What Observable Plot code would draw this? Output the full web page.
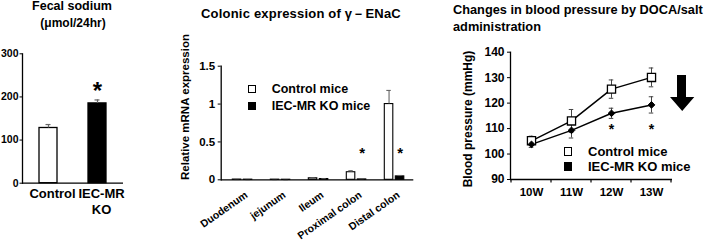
<!DOCTYPE html>
<html><head><meta charset="utf-8">
<script src="https://cdn.jsdelivr.net/npm/d3@7"></script>
<script src="https://cdn.jsdelivr.net/npm/@observablehq/plot@0.6"></script>
<style>
html,body{margin:0;padding:0;background:#fff;}
#root{position:relative;width:708px;height:241px;overflow:hidden;font-family:"Liberation Sans",Arial,sans-serif;font-weight:bold;color:#000;}
.abs{position:absolute;white-space:nowrap;}
.plot{position:absolute;}
.plot svg{overflow:visible;display:block;}
.sq{position:absolute;box-sizing:border-box;border:1.4px solid #000;background:#fff;}
.sq.k{background:#000;}
.vlab{position:absolute;white-space:nowrap;transform:translate(-50%,-50%) rotate(-90deg);}
</style></head>
<body><div id="root"></div>
<script>
// ---------- Panel A: Fecal sodium ----------
const fecalGroups = ["Control", "IEC-MR KO"];
const fecalLabels = ["Control", "IEC-MR\nKO"];
const fecalMeans = [128, 185];
const fecalErrs = [8, 8];
const fecalStarLevel = [null, 227];
const fecalTicks = [0, 100, 200, 300];

// ---------- Panel B: Colonic expression of gamma-ENaC ----------
const segments = ["Duodenum", "jejunum", "Ileum", "Proximal colon", "Distal colon"];
const enacControl = [0.003, 0.002, 0.02, 0.10, 1.00];
const enacControlErr = [0.001, 0.001, 0.005, 0.02, 0.18];
const enacKO = [0.002, 0.001, 0.01, 0.005, 0.045];
const enacKOErr = [0.001, 0.001, 0.003, 0.002, 0.012];
const enacStarLevel = [null, null, null, 0.41, 0.41];
const enacTicks = [0, 0.5, 1, 1.5];

// ---------- Panel C: Blood pressure ----------
const weeks = ["10W", "11W", "12W", "13W"];
const bpControl = [105.2, 113.0, 125.5, 130.1];
const bpControlErr = [1.8, 4.5, 3.6, 3.7];
const bpKO = [103.8, 109.3, 116.0, 119.3];
const bpKOErr = [1.2, 3.0, 2.0, 3.2];
const bpStarLevel = [null, null, 111.2, 111.2];
const bpTicks = [90, 100, 110, 120, 130, 140];
const seriesNames = ["Control mice", "IEC-MR KO mice"];

const FONT = '"Liberation Sans", Arial, sans-serif';
const root = document.getElementById("root");
function place(el, left, top) {
  const d = document.createElement("div");
  d.className = "plot";
  d.style.left = left + "px";
  d.style.top = top + "px";
  d.appendChild(el);
  root.appendChild(d);
}
function html(cls, text, css) {
  const d = document.createElement("div");
  d.className = cls;
  d.textContent = text;
  Object.assign(d.style, css);
  root.appendChild(d);
  return d;
}
const baseStyle = {fontFamily: FONT, fontWeight: "bold", fontSize: "11px", background: "transparent", overflow: "visible", color: "#000"};

// ---------- Panel A ----------
const fecal = fecalGroups.map((g, i) => ({group: g, mean: fecalMeans[i], err: fecalErrs[i], star: fecalStarLevel[i]}));
const p1 = Plot.plot({
  width: 130, height: 180,
  marginLeft: 22, marginRight: 7, marginTop: 13.3, marginBottom: 37.3,
  style: baseStyle,
  x: {type: "band", domain: fecalGroups, paddingInner: 0.635, paddingOuter: 0.342},
  y: {domain: [0, 300]},
  color: {domain: fecalGroups, range: ["#fff", "#000"]},
  marks: [
    Plot.barY(fecal, {x: "group", y: "mean", fill: "group", stroke: "#000", strokeWidth: 1.3}),
    Plot.ruleX(fecal, {x: "group", y1: "mean", y2: d => d.mean + d.err, stroke: "#666", strokeWidth: 1.2}),
    Plot.tickY(fecal, {x: "group", y: d => d.mean + d.err, stroke: "#666", strokeWidth: 1.2, inset: 6.5}),
    Plot.text(fecal.filter(d => d.star != null), {x: "group", y: "star", text: () => "*", fontSize: 24, fontWeight: "bold", dy: 6}),
    Plot.ruleY([0], {strokeWidth: 1.3}),
    Plot.frame({anchor: "left", strokeWidth: 1.3}),
    Plot.axisY({ticks: fecalTicks, tickSize: 2.5, tickPadding: 1.5, fontSize: 10.5, label: null, tickFormat: d => String(d)}),
    Plot.axisX({tickSize: 0, tickPadding: 4, fontSize: 13, lineHeight: 1.22, dx: 4, label: null,
      tickFormat: d => fecalLabels[fecalGroups.indexOf(d)]})
  ]
});
place(p1, 0, 40);
html("abs", "Fecal sodium", {left: "0px", width: "144px", textAlign: "center", top: "-1px", fontSize: "12.5px", lineHeight: "14px"});
html("abs", "(μmol/24hr)", {left: "0px", width: "146px", textAlign: "center", top: "16px", fontSize: "12px", lineHeight: "14px"});

// ---------- Panel B ----------
const enac = segments.map((s, i) => ({seg: s, c: enacControl[i], ce: enacControlErr[i], k: enacKO[i], ke: enacKOErr[i], star: enacStarLevel[i]}));
const p2 = Plot.plot({
  width: 240, height: 200,
  marginLeft: 40.7, marginRight: 6.7, marginTop: 25.7, marginBottom: 60.7,
  style: baseStyle,
  x: {type: "band", domain: segments, padding: 0, axis: null},
  y: {domain: [0, 1.5]},
  marks: [
    Plot.barY(enac, {x: "seg", y: "c", fill: "#fff", stroke: "#000", strokeWidth: 1.1, insetLeft: 10.3, insetRight: 19.2}),
    Plot.ruleX(enac, {x: "seg", y1: "c", y2: d => d.c + d.ce, dx: -4.45, stroke: "#666", strokeWidth: 1.1}),
    Plot.tickY(enac, {x: "seg", y: d => d.c + d.ce, insetLeft: 12.3, insetRight: 21.2, stroke: "#666", strokeWidth: 1.1}),
    Plot.barY(enac, {x: "seg", y: "k", fill: "#000", stroke: "#000", strokeWidth: 1.1, insetLeft: 21.3, insetRight: 8.2}),
    Plot.ruleX(enac, {x: "seg", y1: "k", y2: d => d.k + d.ke, dx: 6.55, stroke: "#666", strokeWidth: 1.1}),
    Plot.tickY(enac, {x: "seg", y: d => d.k + d.ke, insetLeft: 23.3, insetRight: 10.2, stroke: "#666", strokeWidth: 1.1}),
    Plot.text(enac.filter(d => d.star != null), {x: "seg", y: "star", dx: 6.55, dy: 4, text: () => "*", fontSize: 15, fontWeight: "bold"}),
    Plot.ruleY([0], {strokeWidth: 1.3}),
    Plot.frame({anchor: "left", strokeWidth: 1.3}),
    Plot.axisY({ticks: enacTicks, tickSize: 3, tickPadding: 3, fontSize: 11.5, label: null, tickFormat: d => String(d)}),
    // rotated category labels, anchored at the band centre below the axis line
    Plot.text(segments, {x: d => d, text: d => d, frameAnchor: "bottom", rotate: -35, textAnchor: "end", lineAnchor: "middle",
      dx: 5, dy: 14, fontSize: 10.5, fontWeight: "bold"})
  ]
});
place(p2, 180, 40);
html("abs", "Colonic expression of γ－ENaC", {left: "201px", top: "5.5px", fontSize: "13px", lineHeight: "15px", letterSpacing: "0.2px"});
html("vlab", "Relative mRNA expression", {left: "185px", top: "107px", fontSize: "11.5px"});
// legend B
[[seriesNames[0], ""], [seriesNames[1], "k"]].forEach(([name, k], i) => {
  const y = [89.3, 106][i];
  const s = document.createElement("div");
  s.className = "sq " + k;
  Object.assign(s.style, {left: "247.7px", top: (y - 4) + "px", width: "8px", height: "8px"});
  root.appendChild(s);
  html("abs", name, {left: "271.7px", top: (y - 7.5) + "px", fontSize: "12.5px", lineHeight: "15px"});
});

// ---------- Panel C ----------
const bp = weeks.flatMap((w, i) => [
  {week: w, group: seriesNames[0], mean: bpControl[i], err: bpControlErr[i]},
  {week: w, group: seriesNames[1], mean: bpKO[i], err: bpKOErr[i]}
]);
const bpStars = weeks.map((w, i) => ({week: w, level: bpStarLevel[i]})).filter(d => d.level != null);
const p3 = Plot.plot({
  width: 268, height: 160,
  marginLeft: 70, marginRight: 36, marginTop: 11.7, marginBottom: 21,
  style: baseStyle,
  x: {type: "band", domain: weeks, padding: 0},
  y: {domain: [90, 140]},
  marks: [
    Plot.ruleX(bp, {x: "week", y1: d => d.mean - d.err, y2: d => d.mean + d.err, stroke: "#444", strokeWidth: 1}),
    Plot.tickY(bp, {x: "week", y: d => d.mean - d.err, inset: 17.75, stroke: "#444", strokeWidth: 1}),
    Plot.tickY(bp, {x: "week", y: d => d.mean + d.err, inset: 17.75, stroke: "#444", strokeWidth: 1}),
    Plot.line(bp, {x: "week", y: "mean", z: "group", stroke: "#000", strokeWidth: 1.5}),
    Plot.dot(bp.filter(d => d.group === seriesNames[0]), {x: "week", y: "mean", symbol: "square", r: 4.6, fill: "#fff", stroke: "#000", strokeWidth: 1.3}),
    Plot.dot(bp.filter(d => d.group === seriesNames[1]), {x: "week", y: "mean", symbol: "diamond2", r: 3, fill: "#000", stroke: "#000", strokeWidth: 1}),
    Plot.text(bpStars, {x: "week", y: "level", text: () => "*", fontSize: 14, fontWeight: "bold", dy: 3.6}),
    Plot.ruleY([90], {strokeWidth: 1.3}),
    Plot.frame({anchor: "left", strokeWidth: 1.3}),
    Plot.axisY({ticks: bpTicks, tickSize: 3, tickPadding: 3, fontSize: 12, label: null}),
    Plot.axisX({tickSize: 0, tickPadding: 8, fontSize: 11.5, label: null})
  ]
});
// category boundary tick marks on the x axis (from the band scale)
(function () {
  const xs = p3.scale("x");
  const bounds = weeks.map(w => xs.apply(w)).concat([xs.apply(weeks[weeks.length - 1]) + xs.bandwidth]);
  const y0 = 160 - 21;
  d3.select(p3).append("g").attr("stroke", "#000").attr("stroke-width", 1.2)
    .selectAll("line").data(bounds).join("line")
    .attr("x1", d => d).attr("x2", d => d).attr("y1", y0).attr("y2", y0 + 3.5);
})();
place(p3, 440, 40);
// title sized to span the width it has in the reference
const t3 = html("abs", "Changes in blood pressure by DOCA/salt", {left: "453px", top: "1px", fontSize: "13px", lineHeight: "17px"});
const t3w = t3.getBoundingClientRect().width;
const t3size = Math.min(13.5, 13 * 250 / t3w);
t3.style.fontSize = t3size + "px";
html("abs", "administration", {left: "453px", top: "18px", fontSize: t3size + "px", lineHeight: "17px"});
html("vlab", "Blood pressure (mmHg)", {left: "468px", top: "118.5px", fontSize: "12px"});
[[seriesNames[0], ""], [seriesNames[1], "k"]].forEach(([name, k], i) => {
  const y = [151.7, 166.7][i];
  const s = document.createElement("div");
  s.className = "sq " + k;
  Object.assign(s.style, {left: "563.6px", top: (y - 4.4) + "px", width: "8.8px", height: "8.8px"});
  root.appendChild(s);
  html("abs", name, {left: "588px", top: (y - 8) + "px", fontSize: "13px", lineHeight: "16px"});
});
// decorative down arrow (annotation)
const arrow = document.createElementNS("http://www.w3.org/2000/svg", "svg");
arrow.setAttribute("width", "26"); arrow.setAttribute("height", "37");
arrow.style.position = "absolute"; arrow.style.left = "670px"; arrow.style.top = "75px";
arrow.innerHTML = '<polygon points="7,0 16,0 16,22 24.3,22 12.2,36 0,22 7,22" fill="#000"/>';
root.appendChild(arrow);
</script>
</body></html>
